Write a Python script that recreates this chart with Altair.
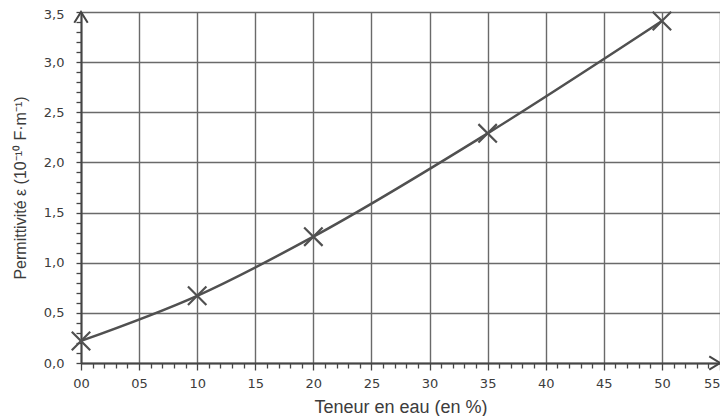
import altair as alt
import pandas as pd

# Data
teneur = [0, 10, 20, 35, 50]
permittivite = [0.22, 0.67, 1.26, 2.29, 3.41]

# Axis tick positions (minor ticks every 1 % and every 0.1)
x_ticks = list(range(0, 56))
y_ticks = [round(i * 0.1, 1) for i in range(0, 36)]

df = pd.DataFrame({"x": teneur, "y": permittivite})
arrow_up = pd.DataFrame({"x": [0], "y": [3.5]})
arrow_right = pd.DataFrame({"x": [55], "y": [0]})

LINE = "#505050"
GRID = "#6a6a6a"
AXIS = "#454545"
TXT = "#3c3c3c"

x_scale = alt.Scale(domain=[0, 55], nice=False, zero=False)
y_scale = alt.Scale(domain=[0, 3.5], nice=False, zero=False)

x_major = "datum.value % 5 === 0"
y_major = "abs(datum.value * 2 - round(datum.value * 2)) < 0.001"

x_axis = alt.Axis(
    values=x_ticks,
    tickCount=200,
    labelExpr=x_major + " ? (datum.value < 10 ? '0' + datum.value : '' + datum.value) : ''",
    grid=True,
    gridColor=GRID,
    gridWidth=1.4,
    gridOpacity={"condition": {"test": x_major, "value": 1}, "value": 0},
    domainColor=AXIS,
    domainWidth=2,
    tickColor=AXIS,
    tickWidth=1.3,
    tickSize={"condition": {"test": x_major, "value": 7}, "value": 5},
    labelPadding=7,
    labelAlign={"condition": {"test": "datum.value === 55", "value": "right"}, "value": "center"},
    labelOverlap=False,
    labelFlush=False,
    labelFont="DejaVu Sans",
    labelFontSize=13,
    labelColor=TXT,
    title="Teneur en eau (en %)",
    titleFont="Liberation Sans",
    titleFontSize=18,
    titleFontWeight="normal",
    titleColor=TXT,
    titlePadding=8,
)

y_axis = alt.Axis(
    values=y_ticks,
    tickCount=200,
    labelExpr=y_major + " ? replace(format(datum.value, '.1f'), '.', ',') : ''",
    grid=True,
    gridColor=GRID,
    gridWidth=1.4,
    gridOpacity={"condition": {"test": y_major, "value": 1}, "value": 0},
    domainColor=AXIS,
    domainWidth=2,
    tickColor=AXIS,
    tickWidth=1.3,
    tickSize=5,
    labelPadding=12,
    labelOffset={"condition": {"test": "datum.value > 3.45", "value": 2}, "value": 0},
    labelOverlap=False,
    labelFlush=False,
    labelFont="DejaVu Sans",
    labelFontSize=13,
    labelColor=TXT,
    title="Permittivité ε (10⁻¹⁰ F·m⁻¹)",
    titleFont="Liberation Sans",
    titleFontSize=16,
    titleFontWeight="normal",
    titleColor=TXT,
    titlePadding=15,
)

base = alt.Chart(df)

curve = base.mark_line(interpolate="monotone", color=LINE, strokeWidth=2.5).encode(
    x=alt.X("x:Q", scale=x_scale, axis=x_axis),
    y=alt.Y("y:Q", scale=y_scale, axis=y_axis),
)

crosses = base.mark_point(
    shape="M-1,-1L1,1M-1,1L1,-1", size=340, filled=False, color=LINE, strokeWidth=2.2, opacity=1
).encode(x="x:Q", y="y:Q")

up = alt.Chart(arrow_up).mark_point(
    shape="M-1,1.6L0,0L1,1.6", size=180, filled=False, color=AXIS, strokeWidth=2, opacity=1
).encode(x="x:Q", y="y:Q")

right = alt.Chart(arrow_right).mark_point(
    shape="M-1.6,-1L0,0L-1.6,1", size=180, filled=False, color=AXIS, strokeWidth=2, opacity=1
).encode(x="x:Q", y="y:Q")

chart = (
    alt.layer(curve, crosses, up, right)
    .properties(
        width=639,
        height=351,
        autosize=alt.AutoSizeParams(type="none"),
        padding={"left": 73, "top": 4, "right": 0, "bottom": 53},
    )
    .configure_view(stroke=None)
)

chart.save("out.html", embed_options={"renderer": "svg", "actions": False})
